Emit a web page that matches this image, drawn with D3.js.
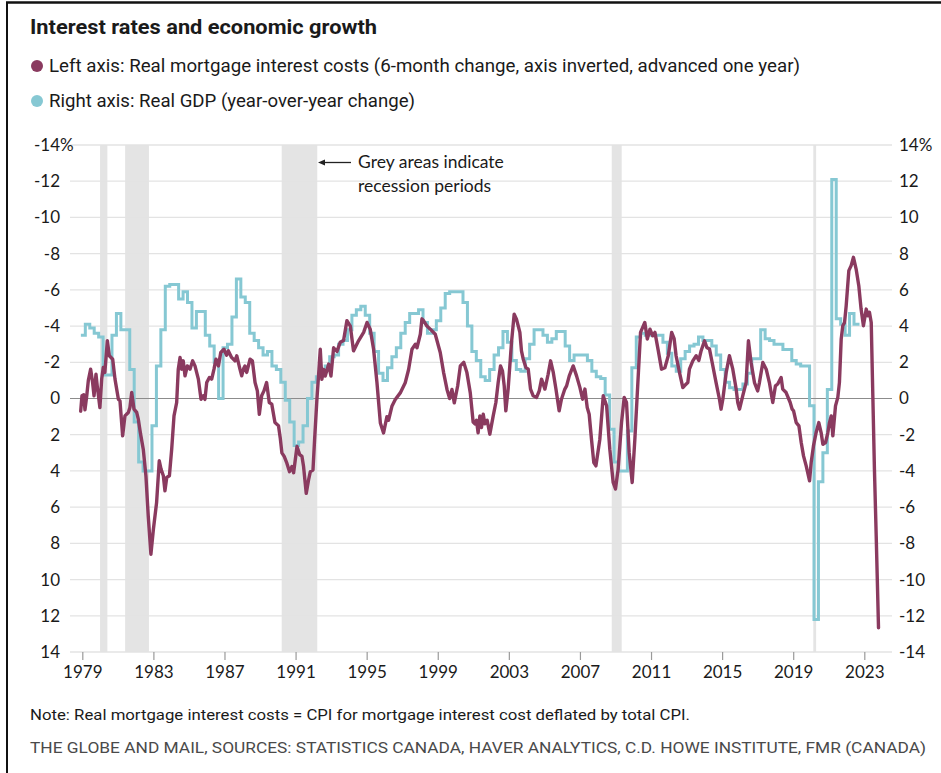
<!DOCTYPE html>
<html>
<head>
<meta charset="utf-8">
<script src="https://cdn.jsdelivr.net/npm/d3@7"></script>
<style>
  body { margin: 0; background: #fff; }
  svg { display: block; }
</style>
</head>
<body>
<svg id="chart" width="941" height="773"></svg>
<script>
// Recession periods (start, end) in fractional years
const recessions = [
  [1980.00, 1980.41],
  [1981.41, 1982.75],
  [1990.22, 1992.22],
  [2008.79, 2009.35],
  [2020.13, 2020.29]
];

// Real GDP, year-over-year % change, one value per quarter from 1979 Q1
const gdpStart = 1978.92;
const gdpEnd = 2022.73;
const gdpQuarterly = [
  3.5, 4.1, 3.9, 3.6,    3.4, 1.3, 1.3, 3.5,    4.7, 3.8, 3.8, 1.6,
  -1.3, -3.5, -4.0, -4.0, -1.5, 1.8, 3.8, 6.2,  6.3, 6.3, 5.5, 5.9,
  5.3, 3.9, 4.8, 4.8,    3.5, 2.9, 2.0, 0.0,    2.8, 3.0, 4.5, 6.6,
  5.6, 5.3, 3.6, 3.2,    2.8, 2.4, 2.6, 1.8,    1.6, 0.9, -0.1, -1.3,
  -2.6, -2.4, -1.5, 0.0, 0.9, 1.2, 1.5, 1.8,    2.3, 2.4, 3.0, 3.2,
  3.8, 4.6, 4.9, 5.1,    4.6, 3.6, 2.6, 1.4,    1.0, 1.7, 2.3, 2.8,
  3.6, 4.2, 4.7, 4.7,    4.9, 4.2, 3.6, 3.8,    4.3, 5.0, 5.8, 5.9,
  5.9, 5.9, 5.3, 4.0,    2.6, 2.1, 1.2, 1.0,    1.6, 2.4, 2.8, 3.7,
  3.1, 2.1, 1.6, 1.5,    2.2, 3.0, 3.8, 3.8,    3.5, 3.1, 3.3, 3.7,
  3.7, 2.9, 2.1, 2.4,    2.4, 2.4, 2.1, 1.5,    1.2, 1.1, 0.2, -1.7,
  -3.5, -4.0, -4.0, -1.8, 1.7, 3.4, 3.6, 3.5,   3.5, 3.5, 3.5, 3.1,
  2.5, 1.8, 1.5, 2.2,    2.6, 2.9, 3.0, 3.4,    3.2, 3.2, 2.9, 2.4,
  1.6, 0.9, 0.6, 0.5,    0.5, 0.8, 1.4, 2.2,    2.2, 3.8, 3.3, 3.2,
  3.0, 3.0, 2.7, 2.7,    2.1, 1.9, 1.8, 1.8,    -0.4, -12.2, -4.6, -3.0,
  0.5, 12.1, 4.4, 4.1,   3.5, 4.7, 4.1
];

// Real mortgage interest costs, 6-month % change, advanced one year: [year, value]
const mortgageCost = [
  [1978.91, 0.7], [1978.98, -0.15], [1979.08, -0.2], [1979.15, 0.63], [1979.25, -0.15],
  [1979.34, -1.0], [1979.47, -1.62], [1979.58, -0.88], [1979.66, -0.15], [1979.77, -1.34],
  [1979.84, -0.7], [1979.99, 0.5], [1980.09, -1.07], [1980.18, -1.71], [1980.27, -1.44],
  [1980.41, -3.19], [1980.52, -2.36], [1980.71, -2.17], [1980.84, -1.07], [1981.03, 0.04],
  [1981.12, 0.13], [1981.27, 2.06], [1981.40, 0.96], [1981.59, 0.77], [1981.68, 0.5],
  [1981.78, -0.33], [1981.91, 0.59], [1982.06, 0.77], [1982.15, 1.14], [1982.28, 1.97],
  [1982.43, 2.8], [1982.58, 4.27], [1982.71, 6.48], [1982.86, 8.6], [1983.00, 7.22],
  [1983.18, 5.75], [1983.33, 3.44], [1983.43, 3.9], [1983.56, 4.27], [1983.65, 5.1],
  [1983.75, 4.36], [1983.90, 4.27], [1984.03, 2.8], [1984.16, 0.96], [1984.31, 0.22],
  [1984.40, -1.62], [1984.50, -2.27], [1984.59, -1.62], [1984.68, -2.08], [1984.78, -1.25],
  [1984.91, -1.8], [1985.06, -1.62], [1985.21, -2.08], [1985.34, -1.8], [1985.53, -1.07],
  [1985.68, 0.04], [1985.81, -0.15], [1985.90, 0.05], [1986.00, -0.88], [1986.15, -1.16],
  [1986.28, -1.07], [1986.41, -1.62], [1986.52, -2.17], [1986.66, -1.8], [1986.79, -2.54],
  [1986.97, -2.72], [1987.12, -2.39], [1987.22, -2.63], [1987.40, -2.27], [1987.59, -2.08],
  [1987.69, -2.36], [1987.78, -1.99], [1987.87, -1.62], [1987.97, -1.25], [1988.06, -1.62],
  [1988.15, -1.8], [1988.25, -1.44], [1988.44, -2.17], [1988.57, -2.08], [1988.72, -0.88],
  [1988.85, -0.42], [1988.96, 0.87], [1989.09, -0.15], [1989.22, -0.42], [1989.37, -0.88],
  [1989.52, 0.22], [1989.66, 0.31], [1989.84, 1.33], [1990.04, 1.5], [1990.14, 2.2],
  [1990.23, 3.0], [1990.36, 3.2], [1990.51, 3.57], [1990.66, 4.04], [1990.79, 3.76],
  [1990.89, 4.1], [1991.08, 2.65], [1991.23, 3.1], [1991.36, 3.2], [1991.45, 3.76],
  [1991.60, 5.24], [1991.73, 4.5], [1991.83, 4.04], [1991.98, 3.95], [1992.07, 2.28],
  [1992.20, 0.06], [1992.29, -1.24], [1992.39, -2.72], [1992.48, -1.06], [1992.58, -1.6],
  [1992.67, -1.24], [1992.86, -1.9], [1992.99, -1.24], [1993.14, -2.8], [1993.33, -2.6],
  [1993.51, -3.1], [1993.70, -3.2], [1993.89, -4.3], [1994.08, -4.0], [1994.26, -2.63],
  [1994.55, -3.2], [1994.83, -3.65], [1995.02, -4.2], [1995.20, -3.83], [1995.39, -2.72],
  [1995.58, -0.87], [1995.77, 1.35], [1995.95, 1.9], [1996.14, 1.0], [1996.23, 1.2],
  [1996.42, 0.43], [1996.61, 0.06], [1996.89, -0.31], [1997.17, -0.87], [1997.36, -1.6],
  [1997.55, -2.72], [1997.74, -3.0], [1997.83, -2.8], [1998.02, -3.55], [1998.11, -4.4],
  [1998.20, -4.3], [1998.39, -4.0], [1998.58, -3.83], [1998.86, -3.55], [1999.14, -2.54],
  [1999.33, -1.43], [1999.52, -0.5], [1999.67, 0.0], [1999.80, -0.5], [1999.93, 0.24],
  [2000.12, -0.69], [2000.27, -1.8], [2000.46, -2.0], [2000.64, -1.43], [2000.83, -0.31],
  [2000.99, 1.3], [2001.09, 1.4], [2001.18, 1.2], [2001.27, 1.9], [2001.37, 0.96],
  [2001.46, 1.6], [2001.56, 0.87], [2001.65, 1.4], [2001.78, 1.2], [2001.93, 1.97],
  [2002.12, 0.96], [2002.27, 0.22], [2002.40, -0.88], [2002.53, -1.8], [2002.64, -1.53],
  [2002.74, -0.7], [2002.83, 0.68], [2002.96, -0.52], [2003.15, -3.1], [2003.30, -4.66],
  [2003.43, -4.38], [2003.62, -3.65], [2003.71, -2.63], [2003.81, -2.17], [2003.96, -1.71],
  [2004.09, -1.62], [2004.22, -0.52], [2004.37, -0.15], [2004.56, -0.06], [2004.71, -0.42],
  [2004.84, -1.07], [2005.03, -0.52], [2005.21, -1.34], [2005.35, -2.08], [2005.50, -1.44],
  [2005.65, -0.52], [2005.83, 0.68], [2005.96, 0.04], [2006.15, -0.52], [2006.25, -0.7],
  [2006.40, -1.25], [2006.62, -1.8], [2006.81, -1.25], [2007.00, -0.6], [2007.15, 0.04],
  [2007.28, -0.52], [2007.41, 0.5], [2007.52, 0.87], [2007.65, 2.25], [2007.78, 3.54],
  [2007.90, 3.72], [2008.12, 2.25], [2008.31, -0.15], [2008.50, 0.4], [2008.68, 2.8],
  [2008.87, 4.64], [2009.00, 5.0], [2009.15, 3.9], [2009.34, 1.33], [2009.49, -0.06],
  [2009.62, 0.22], [2009.77, 2.98], [2009.94, 4.64], [2010.09, 2.25], [2010.28, -1.25],
  [2010.41, -3.65], [2010.65, -4.2], [2010.79, -3.28], [2010.94, -3.83], [2011.09, -3.46],
  [2011.22, -3.65], [2011.41, -2.63], [2011.59, -1.62], [2011.78, -1.7], [2011.97, -2.36],
  [2012.16, -3.65], [2012.30, -3.3], [2012.41, -2.36], [2012.60, -1.44], [2012.79, -0.6],
  [2012.88, -0.7], [2013.07, -0.88], [2013.16, -1.62], [2013.35, -2.08], [2013.54, -2.36],
  [2013.69, -2.1], [2013.82, -2.64], [2013.91, -2.9], [2014.01, -3.19], [2014.14, -2.82],
  [2014.29, -2.73], [2014.44, -1.99], [2014.66, -0.88], [2014.85, 0.04], [2014.94, 0.59],
  [2015.04, 0.04], [2015.23, -1.44], [2015.41, -2.36], [2015.60, -1.62], [2015.79, -0.52],
  [2015.88, 0.22], [2015.98, 0.59], [2016.16, -0.15], [2016.35, -0.88], [2016.48, -3.19],
  [2016.63, -1.99], [2016.82, -0.88], [2017.00, -0.42], [2017.10, -0.88], [2017.29, -1.99],
  [2017.48, -1.62], [2017.66, -0.88], [2017.85, 0.22], [2018.00, -0.7], [2018.13, -0.8],
  [2018.32, -1.16], [2018.41, -0.52], [2018.60, -0.33], [2018.83, 0.22], [2018.94, 0.59],
  [2019.02, 0.68], [2019.17, 1.33], [2019.32, 1.51], [2019.45, 2.43], [2019.58, 3.17],
  [2019.73, 3.72], [2019.92, 4.55], [2020.01, 3.54], [2020.14, 2.62], [2020.29, 1.88],
  [2020.44, 1.33], [2020.57, 1.88], [2020.67, 2.53], [2020.82, 2.43], [2020.95, 1.88],
  [2021.04, 1.33], [2021.14, 0.96], [2021.23, 2.06], [2021.38, 0.41], [2021.51, -0.06],
  [2021.60, -0.88], [2021.70, -3.28], [2021.79, -4.02], [2021.89, -4.2], [2021.98, -5.12],
  [2022.13, -7.06], [2022.26, -7.34], [2022.39, -7.8], [2022.54, -7.15], [2022.69, -6.23],
  [2022.82, -4.94], [2022.95, -4.02], [2023.11, -4.94], [2023.20, -4.57], [2023.29, -4.76],
  [2023.39, -4.2], [2023.48, -0.15], [2023.57, 3.9], [2023.67, 7.6], [2023.80, 12.66]
];

const valueTicks = d3.range(-14, 15, 2);
const yearTicks = d3.range(1979, 2024, 4);

const COLORS = {
  mortgage: "#8a3a5f",
  gdp: "#86c8d3",
  band: "#e4e4e4",
  grid: "#e3e3e3",
  zero: "#8c8c8c",
  text: "#1a1a1a"
};
const TICK_FONT = "Lato, 'Open Sans', sans-serif";
const HEAD_FONT = "Roboto, 'Noto Sans', sans-serif";

const svg = d3.select("#chart");
const plot = { left: 70, right: 892, top: 145, bottom: 652 };

// Scales: left axis is inverted (negatives on top), right axis is normal
const x = d3.scaleLinear().domain([1979, 2023]).range([82.3, 864.3]);
const yLeft = d3.scaleLinear().domain([-14, 14]).range([plot.top, plot.bottom]);
const yRight = d3.scaleLinear().domain([14, -14]).range([plot.top, plot.bottom]);

// Frame
svg.append("line").attr("x1", 6).attr("x2", 941).attr("y1", 2.5).attr("y2", 2.5)
  .attr("stroke", "#111").attr("stroke-width", 2.5);
svg.append("line").attr("x1", 7).attr("x2", 7).attr("y1", 2).attr("y2", 773)
  .attr("stroke", "#111").attr("stroke-width", 2);

// Title and legend
svg.append("text").attr("x", 30).attr("y", 34)
  .attr("font-family", HEAD_FONT).attr("font-weight", 700).attr("font-size", 20)
  .attr("fill", COLORS.text).attr("textLength", 347).attr("lengthAdjust", "spacingAndGlyphs")
  .text("Interest rates and economic growth");

const legend = [
  { color: COLORS.mortgage, y: 66, len: 751,
    label: "Left axis: Real mortgage interest costs (6-month change, axis inverted, advanced one year)" },
  { color: COLORS.gdp, y: 101, len: 366,
    label: "Right axis: Real GDP (year-over-year change)" }
];
legend.forEach(d => {
  svg.append("circle").attr("cx", 37).attr("cy", d.y).attr("r", 6).attr("fill", d.color);
  svg.append("text").attr("x", 49).attr("y", d.y + 6)
    .attr("font-family", HEAD_FONT).attr("font-size", 17.5).attr("fill", COLORS.text)
    .attr("textLength", d.len).attr("lengthAdjust", "spacingAndGlyphs")
    .text(d.label);
});

// Recession shading
svg.append("g").selectAll("rect").data(recessions).join("rect")
  .attr("x", d => x(d[0])).attr("width", d => x(d[1]) - x(d[0]))
  .attr("y", plot.top).attr("height", plot.bottom - plot.top)
  .attr("fill", COLORS.band);

// Horizontal gridlines
svg.append("g").selectAll("line").data(valueTicks.filter(v => v !== 0)).join("line")
  .attr("x1", plot.left).attr("x2", plot.right)
  .attr("y1", d => yLeft(d)).attr("y2", d => yLeft(d))
  .attr("stroke", COLORS.grid).attr("stroke-width", 1.3);
svg.append("line").attr("x1", plot.left).attr("x2", plot.right)
  .attr("y1", yLeft(0)).attr("y2", yLeft(0))
  .attr("stroke", COLORS.zero).attr("stroke-width", 1.2);

// Axes (plain hyphen for negative numbers)
const plainNumber = d => String(d);
function styleAxis(g) {
  g.select(".domain").remove();
  g.selectAll("text").attr("font-family", TICK_FONT).attr("font-size", 17).attr("fill", COLORS.text);
}
const leftAxis = svg.append("g").attr("transform", `translate(${plot.left},0)`)
  .call(d3.axisLeft(yLeft).tickValues(valueTicks).tickFormat(plainNumber).tickSize(0).tickPadding(10))
  .call(styleAxis);
const rightAxis = svg.append("g").attr("transform", `translate(${plot.right},0)`)
  .call(d3.axisRight(yRight).tickValues(valueTicks).tickFormat(plainNumber).tickSize(0).tickPadding(7))
  .call(styleAxis);

// Percent sign on the top labels, hanging past the number
leftAxis.selectAll(".tick").filter(d => d === -14).select("text").each(function () {
  const t = d3.select(this);
  const pct = t.append("tspan").text("%");
  const w = pct.node().getComputedTextLength();
  t.attr("x", +t.attr("x") + w);
});
rightAxis.selectAll(".tick").filter(d => d === 14).select("text").append("tspan").text("%");

svg.append("g").attr("transform", `translate(0,${plot.bottom})`)
  .call(d3.axisBottom(x).tickValues(yearTicks).tickFormat(d3.format("d")).tickSize(8).tickPadding(6))
  .call(styleAxis)
  .call(g => g.selectAll(".tick line").attr("stroke", "#9a9a9a").attr("stroke-width", 1.2));

// Real GDP as quarterly steps
const gdpPoints = gdpQuarterly.map((v, i) => [gdpStart + i * 0.25, v]);
gdpPoints.push([gdpEnd, gdpQuarterly[gdpQuarterly.length - 1]]);
svg.append("path").datum(gdpPoints)
  .attr("fill", "none").attr("stroke", COLORS.gdp).attr("stroke-width", 3)
  .attr("stroke-linejoin", "miter")
  .attr("d", d3.line().x(d => x(d[0])).y(d => yRight(d[1])).curve(d3.curveStepAfter));

// Real mortgage interest costs on the inverted left axis
svg.append("path").datum(mortgageCost)
  .attr("fill", "none").attr("stroke", COLORS.mortgage).attr("stroke-width", 3.4)
  .attr("stroke-linejoin", "round").attr("stroke-linecap", "round")
  .attr("d", d3.line().x(d => x(d[0])).y(d => yLeft(d[1])));

// Annotation for the shaded periods
const note = svg.append("g");
note.append("line").attr("x1", 351).attr("x2", 322).attr("y1", 162.5).attr("y2", 162.5)
  .attr("stroke", "#222").attr("stroke-width", 1.3);
note.append("path").attr("d", "M318,162.5 L325,159.5 L325,165.5 Z").attr("fill", "#222");
note.selectAll("text").data(["Grey areas indicate", "recession periods"]).join("text")
  .attr("x", 358).attr("y", (d, i) => 168 + i * 23.5)
  .attr("font-family", TICK_FONT).attr("font-size", 17.5).attr("fill", COLORS.text)
  .text(d => d);

// Footnotes
svg.append("text").attr("x", 30).attr("y", 720)
  .attr("font-family", HEAD_FONT).attr("font-size", 15.5).attr("fill", COLORS.text)
  .attr("textLength", 660).attr("lengthAdjust", "spacingAndGlyphs")
  .text("Note: Real mortgage interest costs = CPI for mortgage interest cost deflated by total CPI.");
svg.append("text").attr("x", 30).attr("y", 753)
  .attr("font-family", HEAD_FONT).attr("font-size", 14.5).attr("fill", "#4a4a4a")
  .attr("textLength", 896).attr("lengthAdjust", "spacingAndGlyphs")
  .text("THE GLOBE AND MAIL, SOURCES: STATISTICS CANADA, HAVER ANALYTICS, C.D. HOWE INSTITUTE, FMR (CANADA)");
</script>
</body>
</html>
